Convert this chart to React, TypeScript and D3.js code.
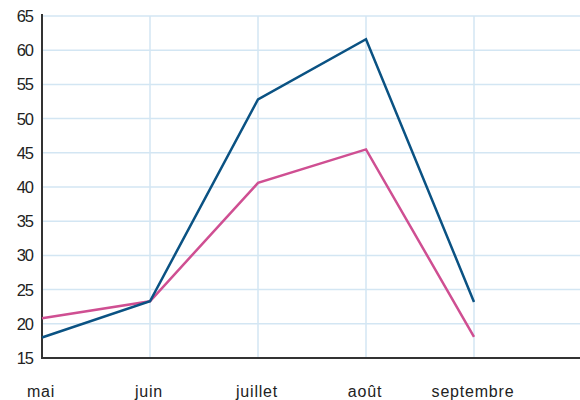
import { useEffect, useRef } from "react";
import * as d3 from "d3";

const months = ["mai", "juin", "juillet", "août", "septembre"];
const blueSeries = [18, 23.3, 52.8, 61.6, 23.2];
const pinkSeries = [20.8, 23.3, 40.6, 45.5, 18.1];
const yTicks = [15, 20, 25, 30, 35, 40, 45, 50, 55, 60, 65];

const width = 580;
const height = 400;
const margin = { top: 16, right: 0, bottom: 42, left: 42 };

export default function App() {
  const ref = useRef<SVGSVGElement>(null);

  useEffect(() => {
    if (!ref.current) return;
    const svg = d3.select(ref.current);
    svg.selectAll("*").remove();

    const step = 108;
    const x = d3
      .scaleLinear()
      .domain([0, months.length - 1])
      .range([margin.left, margin.left + step * (months.length - 1)]);
    const y = d3
      .scaleLinear()
      .domain([15, 65])
      .range([height - margin.bottom, margin.top]);

    const grid = svg.append("g");
    grid
      .selectAll("line.h")
      .data(yTicks.slice(1))
      .enter()
      .append("line")
      .attr("x1", margin.left)
      .attr("x2", width)
      .attr("y1", (d) => y(d))
      .attr("y2", (d) => y(d))
      .attr("stroke", "#d3e6f3")
      .attr("stroke-width", 1.5);
    grid
      .selectAll("line.v")
      .data(d3.range(1, months.length + 1))
      .enter()
      .append("line")
      .attr("x1", (d) => x(d))
      .attr("x2", (d) => x(d))
      .attr("y1", margin.top)
      .attr("y2", height - margin.bottom)
      .attr("stroke", "#d3e6f3")
      .attr("stroke-width", 1.5);

    // axes
    svg
      .append("line")
      .attr("x1", margin.left)
      .attr("x2", margin.left)
      .attr("y1", margin.top - 2)
      .attr("y2", height - margin.bottom)
      .attr("stroke", "#333")
      .attr("stroke-width", 2);
    svg
      .append("line")
      .attr("x1", margin.left - 1)
      .attr("x2", width)
      .attr("y1", height - margin.bottom)
      .attr("y2", height - margin.bottom)
      .attr("stroke", "#333")
      .attr("stroke-width", 2);

    svg
      .selectAll("text.y")
      .data(yTicks)
      .enter()
      .append("text")
      .attr("x", 33)
      .attr("y", (d) => y(d) + 6)
      .attr("text-anchor", "end")
      .attr("font-family", "Liberation Sans, Arial, sans-serif")
      .attr("font-size", 16.5)
      .attr("letter-spacing", -1)
      .attr("fill", "#222")
      .text((d) => d);

    svg
      .selectAll("text.x")
      .data(months)
      .enter()
      .append("text")
      .attr("x", (_, i) => x(i) - 1)
      .attr("y", 397)
      .attr("text-anchor", "middle")
      .attr("font-family", "Liberation Sans, Arial, sans-serif")
      .attr("font-size", 16)
      .attr("letter-spacing", 0.8)
      .attr("fill", "#222")
      .text((d) => d);

    const line = d3
      .line<number>()
      .x((_, i) => x(i))
      .y((d) => y(d));

    svg
      .append("path")
      .datum(pinkSeries)
      .attr("d", line)
      .attr("fill", "none")
      .attr("stroke", "#cf4f92")
      .attr("stroke-width", 2.5);
    svg
      .append("path")
      .datum(blueSeries)
      .attr("d", line)
      .attr("fill", "none")
      .attr("stroke", "#0a5283")
      .attr("stroke-width", 2.5);
  }, []);

  return (
    <svg
      ref={ref}
      width={width}
      height={height}
      style={{ position: "absolute", left: 0, top: 0, background: "#fff" }}
    />
  );
}
